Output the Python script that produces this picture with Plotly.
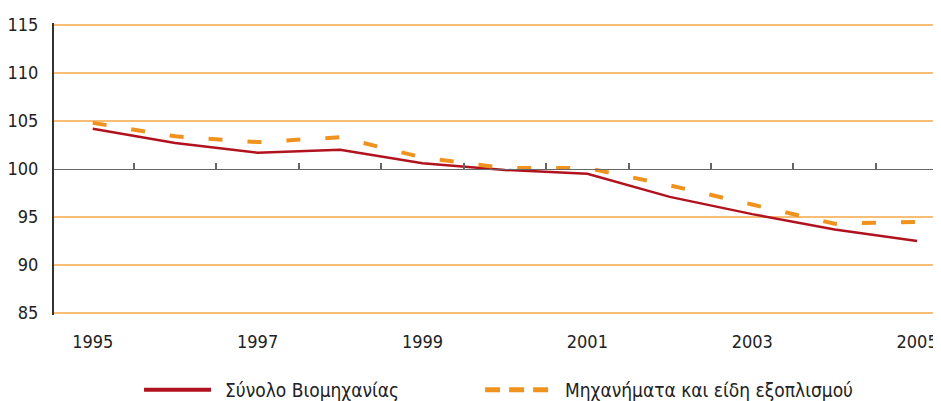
import plotly.graph_objects as go

years = [1995, 1996, 1997, 1998, 1999, 2000, 2001, 2002, 2003, 2004, 2005]
total_industry = [104.2, 102.7, 101.7, 102.0, 100.6, 99.9, 99.5, 97.1, 95.3, 93.7, 92.5]
machinery = [104.8, 103.4, 102.8, 103.3, 101.2, 100.1, 100.1, 98.3, 96.3, 94.3, 94.5]
name_total = "Σύνολο Βιομηχανίας"
name_mach = "Μηχανήματα και είδη εξοπλισμού"
y_ticks = [85, 90, 95, 100, 105, 110, 115]
x_label_years = [1995, 1997, 1999, 2001, 2003, 2005]
base_value = 100

FONT = "DejaVu Sans Condensed, Liberation Sans Narrow, sans-serif"
RED = "#B0121E"
ORANGE = "#F0921E"
GRID = "rgb(248,190,118)"
AXIS = "#333333"
MIDLINE = "#666666"

fig = go.Figure()
fig.add_trace(go.Scatter(x=years, y=total_industry, mode="lines", name=name_total,
                         line=dict(color=RED, width=2.5), showlegend=False))
fig.add_trace(go.Scatter(x=years, y=machinery, mode="lines", name=name_mach,
                         line=dict(color=ORANGE, width=4, dash="14px,25px"), showlegend=False))
# invisible trace to carry the category axis drawn at y=100
fig.add_trace(go.Scatter(x=years, y=total_industry, xaxis="x2", mode="lines",
                         line=dict(width=0), opacity=0, showlegend=False, hoverinfo="skip"))

xr = [1994.53, 2005.29]
boundaries = [y + 0.5 for y in years[:-1]]
grid_vals = [v for v in y_ticks if v != base_value]

# page body has an 8px default margin, so the figure is sized to end at the window edge
fig.update_layout(
    template="none",
    width=933, height=393,
    margin=dict(l=46, r=0, t=15, b=86),
    paper_bgcolor="white", plot_bgcolor="white",
    font=dict(family=FONT, size=18, color="#222"),
    xaxis=dict(range=xr, tickmode="array", tickvals=x_label_years,
               ticktext=[str(v) for v in x_label_years],
               showgrid=False, zeroline=False, showline=False, ticks="",
               ticklabelstandoff=14, tickfont=dict(size=18, color="#222")),
    xaxis2=dict(range=xr, overlaying="x", anchor="free", position=0.5, side="bottom",
                tickmode="array", tickvals=boundaries, showticklabels=False,
                ticks="inside", ticklen=6, tickwidth=2, tickcolor=MIDLINE,
                showline=True, linecolor=MIDLINE, linewidth=1.4,
                showgrid=False, zeroline=False),
    yaxis=dict(range=[84.8, 115.2], tickmode="array", tickvals=y_ticks,
               ticktext=[str(v) for v in y_ticks],
               showgrid=False, zeroline=False,
               minor=dict(tickmode="array", tickvals=grid_vals, showgrid=True,
                          gridcolor=GRID, gridwidth=1.5, ticks=""),
               showline=True, linecolor=AXIS, linewidth=2, ticks="",
               ticklabelstandoff=10, tickfont=dict(size=18, color="#222")),
)

# custom legend below the plot
leg_y = -0.256
fig.add_shape(type="line", xref="paper", yref="paper", x0=0.1015, x1=0.177, y0=leg_y, y1=leg_y,
              line=dict(color=RED, width=4))
fig.add_annotation(xref="paper", yref="paper", x=0.19, y=leg_y, text=name_total,
                   showarrow=False, xanchor="left", yanchor="middle",
                   font=dict(family=FONT, size=19, color="#222"))
fig.add_shape(type="line", xref="paper", yref="paper", x0=0.486, x1=0.561, y0=leg_y, y1=leg_y,
              line=dict(color=ORANGE, width=5, dash="15px,9px"))
fig.add_annotation(xref="paper", yref="paper", x=0.574, y=leg_y, text=name_mach,
                   showarrow=False, xanchor="left", yanchor="middle",
                   font=dict(family=FONT, size=19, color="#222"))

fig.write_html("out.html")
